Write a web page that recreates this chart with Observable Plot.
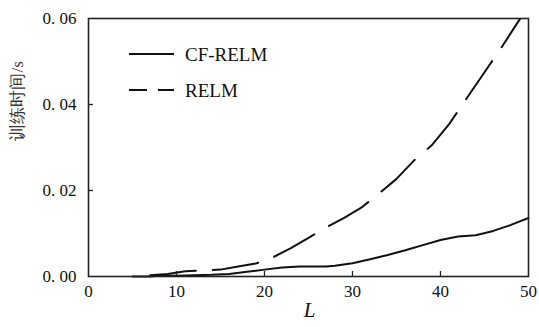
<!DOCTYPE html>
<html>
<head>
<meta charset="utf-8">
<script src="https://cdn.jsdelivr.net/npm/d3@7"></script>
<script src="https://cdn.jsdelivr.net/npm/@observablehq/plot@0.6"></script>
<style>
  html, body { margin: 0; padding: 0; background: #fff; }
  #wrap { position: relative; width: 539px; height: 327px; }
  #legend { position: absolute; left: 0; top: 0; pointer-events: none; }
  svg text { font-family: "Liberation Serif", "DejaVu Serif", serif; }
</style>
</head>
<body>
<div id="wrap"></div>
<script>
// CF-RELM training time (s) vs L
const cfL = [5, 7, 8, 10, 12, 14, 16, 18, 20, 22, 24, 27, 28, 30, 32, 34, 36, 38, 40, 42, 44, 46, 48, 50];
const cfT = [0.0000, 0.0000, 0.0002, 0.0002, 0.0003, 0.0004, 0.0006, 0.0011, 0.0016, 0.0021, 0.0023, 0.0023, 0.0025, 0.0031, 0.0040, 0.0050, 0.0061, 0.0073, 0.0085, 0.0093, 0.0096, 0.0106, 0.0120, 0.0136];
// RELM training time (s) vs L
const reL = [7, 9, 11, 13, 15, 17, 19, 21, 23, 25, 27, 29, 31, 33, 35, 37, 39, 41, 43, 45, 47, 49, 50];
const reT = [0.0003, 0.0006, 0.0012, 0.0014, 0.0016, 0.0023, 0.0030, 0.0045, 0.0066, 0.0090, 0.0114, 0.0136, 0.0160, 0.0193, 0.0227, 0.0270, 0.0305, 0.0355, 0.0415, 0.0475, 0.0535, 0.0598, 0.0625];

const seriesNames = ["CF-RELM", "RELM"];
const xTicks = [0, 10, 20, 30, 40, 50];
const yTicks = [0, 0.02, 0.04, 0.06];
const xLabel = "L";
const yLabel = "训练时间/s";

const cfData = cfL.map((L, i) => ({L, t: cfT[i]}));
const reData = reL.map((L, i) => ({L, t: reT[i]}));

const serif = "Liberation Serif";

const chart = Plot.plot({
  width: 539,
  height: 327,
  marginLeft: 88,
  marginRight: 11,
  marginTop: 18,
  marginBottom: 51,
  style: {fontSize: "17px", color: "#111", background: "#fff"},
  x: {domain: [0, 50], label: null},
  y: {domain: [0, 0.06], label: null},
  marks: [
    Plot.line(cfData, {x: "L", y: "t", stroke: "#111", strokeWidth: 2}),
    Plot.line(reData, {x: "L", y: "t", stroke: "#111", strokeWidth: 2, strokeDasharray: "46,17", clip: true}),
    Plot.axisX({ticks: xTicks.slice(1, -1), tickSize: -5, tickFormat: () => "", label: null, stroke: "#222", strokeWidth: 1.3}),
    Plot.axisX({ticks: xTicks, tickSize: 0, tickPadding: 8, label: null, fontSize: 17, fontFamily: serif, fill: "#111"}),
    Plot.axisY({ticks: yTicks.slice(1, -1), tickSize: -5, tickFormat: () => "", label: null, stroke: "#222", strokeWidth: 1.3}),
    Plot.axisY({ticks: yTicks, tickSize: 0, tickPadding: 12, label: null, fontSize: 17, fontFamily: serif, fill: "#111",
      tickFormat: d => d.toFixed(2).replace(".", ". ")}),
    Plot.text([xLabel], {frameAnchor: "bottom", dx: 1, dy: 40, fontSize: 21, fontStyle: "italic", fontFamily: serif, fill: "#111"}),
    Plot.text([yLabel], {frameAnchor: "left", dx: -71, dy: -7, rotate: -90, fontSize: 17,
      fontFamily: "Noto Sans CJK SC", fill: "#333"}),
    Plot.frame({stroke: "#222", strokeWidth: 1.6})
  ]
});

const wrap = document.getElementById("wrap");
wrap.appendChild(chart);

// legend overlay
const ns = "http://www.w3.org/2000/svg";
const leg = document.createElementNS(ns, "svg");
leg.setAttribute("id", "legend");
leg.setAttribute("width", 539);
leg.setAttribute("height", 327);
const items = [
  {name: seriesNames[0], y: 54, dash: null},
  {name: seriesNames[1], y: 90, dash: "18,11"}
];
for (const it of items) {
  const ln = document.createElementNS(ns, "line");
  ln.setAttribute("x1", 129); ln.setAttribute("x2", 174);
  ln.setAttribute("y1", it.y); ln.setAttribute("y2", it.y);
  ln.setAttribute("stroke", "#111"); ln.setAttribute("stroke-width", 1.8);
  if (it.dash) ln.setAttribute("stroke-dasharray", it.dash);
  leg.appendChild(ln);
  const tx = document.createElementNS(ns, "text");
  tx.setAttribute("x", 185); tx.setAttribute("y", it.y);
  tx.setAttribute("dy", "0.35em");
  tx.setAttribute("font-family", serif);
  tx.setAttribute("font-size", 19);
  tx.setAttribute("fill", "#111");
  tx.textContent = it.name;
  leg.appendChild(tx);
}
wrap.appendChild(leg);
</script>
</body>
</html>
